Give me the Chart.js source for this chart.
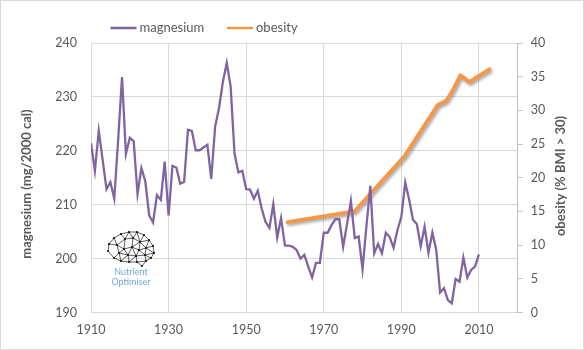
<!DOCTYPE html>
<html>
<head>
<meta charset="utf-8">
<script src="https://cdn.jsdelivr.net/npm/chart.js@4/dist/chart.umd.min.js"></script>
<style>
  body { margin: 0; background: #fff; }
  canvas { display: block; }
</style>
</head>
<body>
<canvas id="chart" width="584" height="350"></canvas>
<script>
// Данные: магний (мг на 2000 ккал) по годам
const magYears = [
  1910, 1911, 1912, 1913, 1914, 1915, 1916, 1917, 1918, 1919,
  1920, 1921, 1922, 1923, 1924, 1925, 1926, 1927, 1928, 1929,
  1930, 1931, 1932, 1933, 1934, 1935, 1936, 1937, 1938, 1939,
  1940, 1941, 1942, 1943, 1944, 1945, 1946, 1947, 1948, 1949,
  1950, 1951, 1952, 1953, 1954, 1955, 1956, 1957, 1958, 1959,
  1960, 1961, 1962, 1963, 1964, 1965, 1966, 1967, 1968, 1969,
  1970, 1971, 1972, 1973, 1974, 1975, 1976, 1977, 1978, 1979,
  1980, 1981, 1982, 1983, 1984, 1985, 1986, 1987, 1988, 1989,
  1990, 1991, 1992, 1993, 1994, 1995, 1996, 1997, 1998, 1999,
  2000, 2001, 2002, 2003, 2004, 2005, 2006, 2007, 2008, 2009,
  2010,
];
const magnesium = [
  221.4, 216.3, 223.7, 218.3, 212.9, 214.2, 211.1, 222.0, 233.7, 219.4,
  222.4, 221.8, 212.0, 216.8, 214.3, 208.0, 206.7, 211.8, 210.9, 218.0,
  208.0, 217.2, 216.9, 213.9, 214.2, 223.9, 223.7, 220.1, 220.1, 220.6,
  221.1, 214.8, 224.5, 227.9, 232.8, 236.3, 231.9, 219.5, 216.0, 216.3,
  212.9, 212.8, 211.1, 212.6, 209.3, 206.8, 205.7, 210.1, 203.9, 207.5,
  202.4, 202.4, 202.2, 201.6, 200.0, 200.7, 198.5, 196.5, 199.2, 199.2,
  204.8, 204.8, 206.2, 207.3, 207.3, 202.2, 206.4, 210.7, 203.8, 204.1,
  198.0, 206.0, 213.5, 201.0, 202.7, 201.0, 204.8, 204.0, 202.0, 205.3,
  207.7, 214.1, 211.0, 207.2, 206.4, 202.3, 205.9, 201.1, 204.8, 201.6,
  193.7, 194.5, 192.3, 191.7, 196.2, 195.7, 200.2, 196.5, 197.9, 198.5,
  200.8,
];

// Данные: ожирение (% с ИМТ > 30)
const obesityYears = [1960.7, 1977.9, 1990.8, 1999.4, 2001.5, 2003.1, 2005.2, 2007.5, 2012.7];
const obesity = [13.4, 15.0, 23.2, 30.8, 31.4, 32.8, 35.2, 34.2, 36.1];

// Подписи осей
const xTicks = [1910, 1930, 1950, 1970, 1990, 2010];
const magTicks = [190, 200, 210, 220, 230, 240];
const obesityTicks = [0, 5, 10, 15, 20, 25, 30, 35, 40];
const magTitle = "magnesium (mg/2000 cal)";
const obesityTitle = "obesity (% BMI > 30)";

const purple = "#8064A2";
const orange = "#F79646";
const textColor = "#595959";
const gridColor = "#d9d9d9";
const fontFamily = "Lato, 'Open Sans', sans-serif";

// Фон, рамка, легенда, заголовки осей и логотип
const decorPlugin = {
  id: "decor",
  beforeDraw(chart) {
    const c = chart.ctx;
    c.save();
    c.fillStyle = "#fff";
    c.fillRect(0, 0, chart.width, chart.height);
    c.strokeStyle = gridColor;
    c.lineWidth = 1;
    c.strokeRect(0.5, 0.5, chart.width - 1, chart.height - 1);
    c.restore();
  },
  beforeDatasetDraw(chart, args) {
    // тень у линии ожирения
    if (args.index === 1) {
      const c = chart.ctx;
      c.save();
      c.shadowColor = "rgba(0, 0, 0, 0.35)";
      c.shadowBlur = 3;
      c.shadowOffsetX = 1.5;
      c.shadowOffsetY = 2;
    }
  },
  afterDatasetDraw(chart, args) {
    if (args.index === 1) chart.ctx.restore();
  },
  afterDraw(chart) {
    const c = chart.ctx;
    c.save();
    // легенда
    const legendX = [110.5, 227];
    chart.data.datasets.forEach((ds, i) => {
      const x = legendX[i];
      c.strokeStyle = ds.borderColor;
      c.lineWidth = 2.5;
      c.beginPath();
      c.moveTo(x, 28);
      c.lineTo(x + 26, 28);
      c.stroke();
      c.fillStyle = textColor;
      c.font = "13px " + fontFamily;
      c.textBaseline = "middle";
      c.textAlign = "left";
      c.fillText(ds.label, x + 29, 28);
    });

    // заголовки осей (оба читаются снизу вверх)
    c.font = "bold 13px " + fontFamily;
    c.fillStyle = textColor;
    c.textAlign = "center";
    c.textBaseline = "middle";
    [[magTitle, 27, 184], [obesityTitle, 561, 176]].forEach(([t, x, y]) => {
      c.save();
      c.translate(x, y);
      c.rotate(-Math.PI / 2);
      c.fillText(t, 0, 0);
      c.restore();
    });

    // логотип: мозг из треугольников
    const nodes = [
      [108, 251], [109, 244], [114, 238], [121, 234], [129, 232], [137, 232],
      [144, 235], [149, 240], [153, 246], [154, 253], [151, 258], [146, 261],
      [142, 266], [137, 262], [129, 262], [121, 261], [114, 258],
      [117, 245], [125, 239], [133, 238], [140, 242], [124, 249], [132, 247],
      [139, 250], [146, 248], [119, 253], [128, 255], [136, 256], [145, 255],
    ];
    c.strokeStyle = "#1a1a1a";
    c.lineWidth = 0.7;
    c.beginPath();
    for (let i = 0; i < nodes.length; i++) {
      for (let j = i + 1; j < nodes.length; j++) {
        const dx = nodes[i][0] - nodes[j][0];
        const dy = nodes[i][1] - nodes[j][1];
        if (Math.hypot(dx, dy) < 10.5) {
          c.moveTo(nodes[i][0], nodes[i][1]);
          c.lineTo(nodes[j][0], nodes[j][1]);
        }
      }
    }
    c.stroke();
    c.fillStyle = "#111";
    nodes.forEach((n) => {
      c.beginPath();
      c.arc(n[0], n[1], 1.1, 0, Math.PI * 2);
      c.fill();
    });
    c.fillStyle = "#6fa8dc";
    c.font = "9px " + fontFamily;
    c.textAlign = "center";
    c.textBaseline = "middle";
    c.fillText("Nutrient", 131, 272.5);
    c.fillText("Optimiser", 131, 282);
    c.restore();
  },
};

const ctx = document.getElementById("chart").getContext("2d");
const chart = new Chart(ctx, {
  type: "line",
  data: {
    datasets: [
      {
        label: "magnesium",
        data: magYears.map((y, i) => ({ x: y, y: magnesium[i] })),
        borderColor: purple,
        borderWidth: 2.3,
        pointRadius: 0,
        tension: 0,
        yAxisID: "y",
      },
      {
        label: "obesity",
        data: obesityYears.map((y, i) => ({ x: y, y: obesity[i] })),
        borderColor: orange,
        borderWidth: 3.8,
        pointRadius: 0,
        tension: 0,
        borderJoinStyle: "round",
        borderCapStyle: "round",
        yAxisID: "y1",
      },
    ],
  },
  options: {
    responsive: false,
    animation: false,
    layout: { padding: { top: 43, left: 0, right: 0, bottom: 0 } },
    plugins: {
      legend: { display: false },
      tooltip: { enabled: false },
    },
    scales: {
      x: {
        type: "linear",
        min: 1910,
        max: 2020,
        afterBuildTicks: (scale) => {
          scale.ticks = xTicks.map((v) => ({ value: v }));
        },
        afterFit: (scale) => {
          scale.height = 37.5;
        },
        grid: { color: gridColor, drawTicks: false },
        border: { color: gridColor },
        ticks: {
          color: textColor,
          font: { family: fontFamily, size: 12.5 },
          padding: 10,
          maxRotation: 0,
          callback: (v) => String(v),
        },
      },
      y: {
        position: "left",
        min: 190,
        max: 240,
        afterBuildTicks: (scale) => {
          scale.ticks = magTicks.map((v) => ({ value: v }));
        },
        afterFit: (scale) => {
          scale.width = 91;
        },
        grid: { color: gridColor, drawTicks: false },
        border: { display: false },
        ticks: {
          color: textColor,
          font: { family: fontFamily, size: 12.5 },
          padding: 14,
        },
      },
      y1: {
        position: "right",
        min: 0,
        max: 40,
        afterBuildTicks: (scale) => {
          scale.ticks = obesityTicks.map((v) => ({ value: v }));
        },
        afterFit: (scale) => {
          scale.width = 66.3;
        },
        grid: {
          drawOnChartArea: false,
          color: "#bfbfbf",
          tickLength: 5,
        },
        border: { color: "#bfbfbf" },
        ticks: {
          color: textColor,
          font: { family: fontFamily, size: 12.5 },
          padding: 8,
        },
      },
    },
  },
  plugins: [decorPlugin],
});
</script>
</body>
</html>
